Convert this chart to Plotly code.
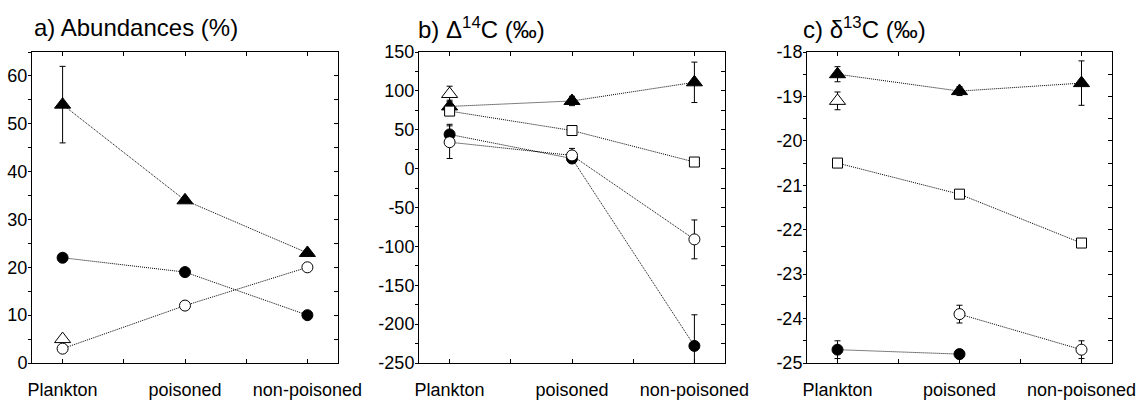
import plotly.graph_objects as go

# ---------------- data ----------------
categories = ["Plankton", "poisoned", "non-poisoned"]
cat_x = [0, 1, 2]

# a) Abundances (%)
abund_filled_tri = [54, 34, 23]
abund_filled_tri_err = [8, 0, 0]
abund_filled_circ = [22, 19, 10]
abund_open_circ = [3, 12, 20]
abund_open_tri = [5]          # Plankton only

# b) Delta14C (permil)
d14_filled_tri = [80, 87, 111]
d14_filled_tri_err = [8, 6, 26]
d14_open_sq = [74, 49, 8.5]
d14_open_sq_err = [4, 4, 4]
d14_filled_circ = [44, 13, -228]
d14_filled_circ_err = [13, 5, 40]
d14_open_circ = [34, 17, -91]
d14_open_circ_err = [21, 9, 25]
d14_open_tri = [96]           # Plankton only
d14_open_tri_err = [10]

# c) delta13C (permil)
d13_filled_tri = [-18.5, -18.88, -18.7]
d13_filled_tri_err = [0.17, 0.1, 0.5]
d13_open_tri = [-19.1]        # Plankton only
d13_open_tri_err = [0.2]
d13_open_sq = [-20.5, -21.2, -22.3]
d13_open_sq_err = [0.05, 0.05, 0.05]
d13_open_circ = [-23.9, -24.7]      # poisoned, non-poisoned
d13_open_circ_err = [0.2, 0.2]
d13_filled_circ = [-24.7, -24.8]    # Plankton, poisoned
d13_filled_circ_err = [0.2, 0.1]

# axis ticks
a_ticks = [0, 10, 20, 30, 40, 50, 60]
b_ticks = [-250, -200, -150, -100, -50, 0, 50, 100, 150]
c_ticks = [-25, -24, -23, -22, -21, -20, -19, -18]

titles = ["a) Abundances (%)", "b) \u0394<sup>14</sup>C (\u2030)", "c) \u03b4<sup>13</sup>C (\u2030)"]

# ---------------- styling ----------------
FONT = "Liberation Sans, Arial, Helvetica, sans-serif"
W, H = 1141, 400
px_dom = [(32, 338), (419, 725), (807, 1112)]
title_x = [32, 416, 801]
ydom = [(H - 363) / H, (H - 52) / H]

fig = go.Figure()

STYLES = {
    "filled_tri": dict(symbol="triangle-up", size=14, color="black", line=dict(color="black", width=1)),
    "open_tri": dict(symbol="triangle-up", size=14, color="white", line=dict(color="black", width=1)),
    "filled_circ": dict(symbol="circle", size=11, color="black", line=dict(color="black", width=1)),
    "open_circ": dict(symbol="circle", size=11, color="white", line=dict(color="black", width=1)),
    "open_sq": dict(symbol="square", size=10, color="white", line=dict(color="black", width=1)),
}


def add(panel, style, xs, ys, err=None, connect=True):
    xa = "x" if panel == 1 else f"x{panel}"
    ya = "y" if panel == 1 else f"y{panel}"
    kw = {}
    if err is not None:
        kw["error_y"] = dict(type="data", array=err, visible=True, color="black", thickness=1, width=3)
    fig.add_trace(go.Scatter(
        x=xs, y=ys, xaxis=xa, yaxis=ya,
        mode="lines+markers" if connect else "markers",
        line=dict(color="black", width=1, dash="1px,1px"),
        marker=STYLES[style], showlegend=False, hoverinfo="skip", **kw))


# panel a
add(1, "filled_tri", cat_x, abund_filled_tri, abund_filled_tri_err)
add(1, "filled_circ", cat_x, abund_filled_circ)
add(1, "open_tri", [0], abund_open_tri, connect=False)
add(1, "open_circ", cat_x, abund_open_circ)

# panel b
add(2, "open_tri", [0], d14_open_tri, d14_open_tri_err, connect=False)
add(2, "filled_tri", cat_x, d14_filled_tri, d14_filled_tri_err)
add(2, "open_sq", cat_x, d14_open_sq, d14_open_sq_err)
add(2, "filled_circ", cat_x, d14_filled_circ, d14_filled_circ_err)
add(2, "open_circ", cat_x, d14_open_circ, d14_open_circ_err)

# panel c
add(3, "filled_tri", cat_x, d13_filled_tri, d13_filled_tri_err)
add(3, "open_tri", [0], d13_open_tri, d13_open_tri_err, connect=False)
add(3, "open_sq", cat_x, d13_open_sq, d13_open_sq_err)
add(3, "open_circ", [1, 2], d13_open_circ, d13_open_circ_err)
add(3, "filled_circ", [0, 1], d13_filled_circ, d13_filled_circ_err)

yinfo = [
    (a_ticks, [0, 65], 5),
    (b_ticks, [-250, 150], 25),
    (c_ticks, [-25, -18], 0.5),
]

layout = dict(
    template="none",
    width=W, height=H, margin=dict(l=0, r=0, t=0, b=0, pad=0),
    paper_bgcolor="white", plot_bgcolor="white",
    font=dict(family=FONT, size=18, color="black"),
)
annotations = []
for i in range(3):
    n = i + 1
    sfx = "" if n == 1 else str(n)
    x0, x1 = px_dom[i]
    ticks, rng, minor_d = yinfo[i]
    layout[f"xaxis{sfx}"] = dict(
        domain=[x0 / W, x1 / W], range=[-0.25, 2.25], anchor=f"y{sfx}", automargin=False,
        tickvals=cat_x, ticktext=categories, ticks="inside", ticklen=4, tickwidth=1,
        tickcolor="black", showline=True, linecolor="black", linewidth=1, mirror="ticks",
        showgrid=False, zeroline=False, ticklabelstandoff=10,
        minor=dict(tick0=0, dtick=0.5, ticks="inside", ticklen=4, tickcolor="black", showgrid=False),
        tickfont=dict(size=18, family=FONT, color="black"),
    )
    layout[f"yaxis{sfx}"] = dict(
        domain=ydom, range=rng, anchor=f"x{sfx}", automargin=False,
        tickvals=ticks, ticktext=[str(t) for t in ticks], ticks="outside", ticklen=3, tickwidth=1,
        tickcolor="black", showline=True, linecolor="black", linewidth=1, mirror=True,
        showgrid=False, zeroline=False, ticklabelstandoff=-3,
        minor=dict(tick0=0, dtick=minor_d, ticks="outside", ticklen=3, tickcolor="black", showgrid=False),
        tickfont=dict(size=18, family=FONT, color="black"),
    )
    # right-side overlay axis with inward ticks
    ov = f"yaxis{n + 3}"
    layout[ov] = dict(
        overlaying=f"y{sfx}", side="right", anchor=f"x{sfx}", range=rng, automargin=False,
        tickvals=ticks, ticks="inside", ticklen=4, tickwidth=1, tickcolor="black",
        showticklabels=False, showline=False, showgrid=False, zeroline=False,
        minor=dict(tick0=0, dtick=minor_d, ticks="inside", ticklen=4, tickcolor="black", showgrid=False),
    )
    fig.add_trace(go.Scatter(x=[None], y=[None], xaxis=f"x{sfx}", yaxis=f"y{n + 3}",
                             mode="markers", showlegend=False, hoverinfo="skip"))
    annotations.append(dict(
        text=titles[i], xref="paper", yref="paper", x=title_x[i] / W, y=(H - 28) / H,
        xanchor="left", yanchor="middle", showarrow=False,
        font=dict(size=24, family=FONT, color="black")))

layout["annotations"] = annotations
fig.update_layout(**layout)
fig.write_html("out.html", config={"displayModeBar": False},
               post_script="document.body.style.margin='0';")
